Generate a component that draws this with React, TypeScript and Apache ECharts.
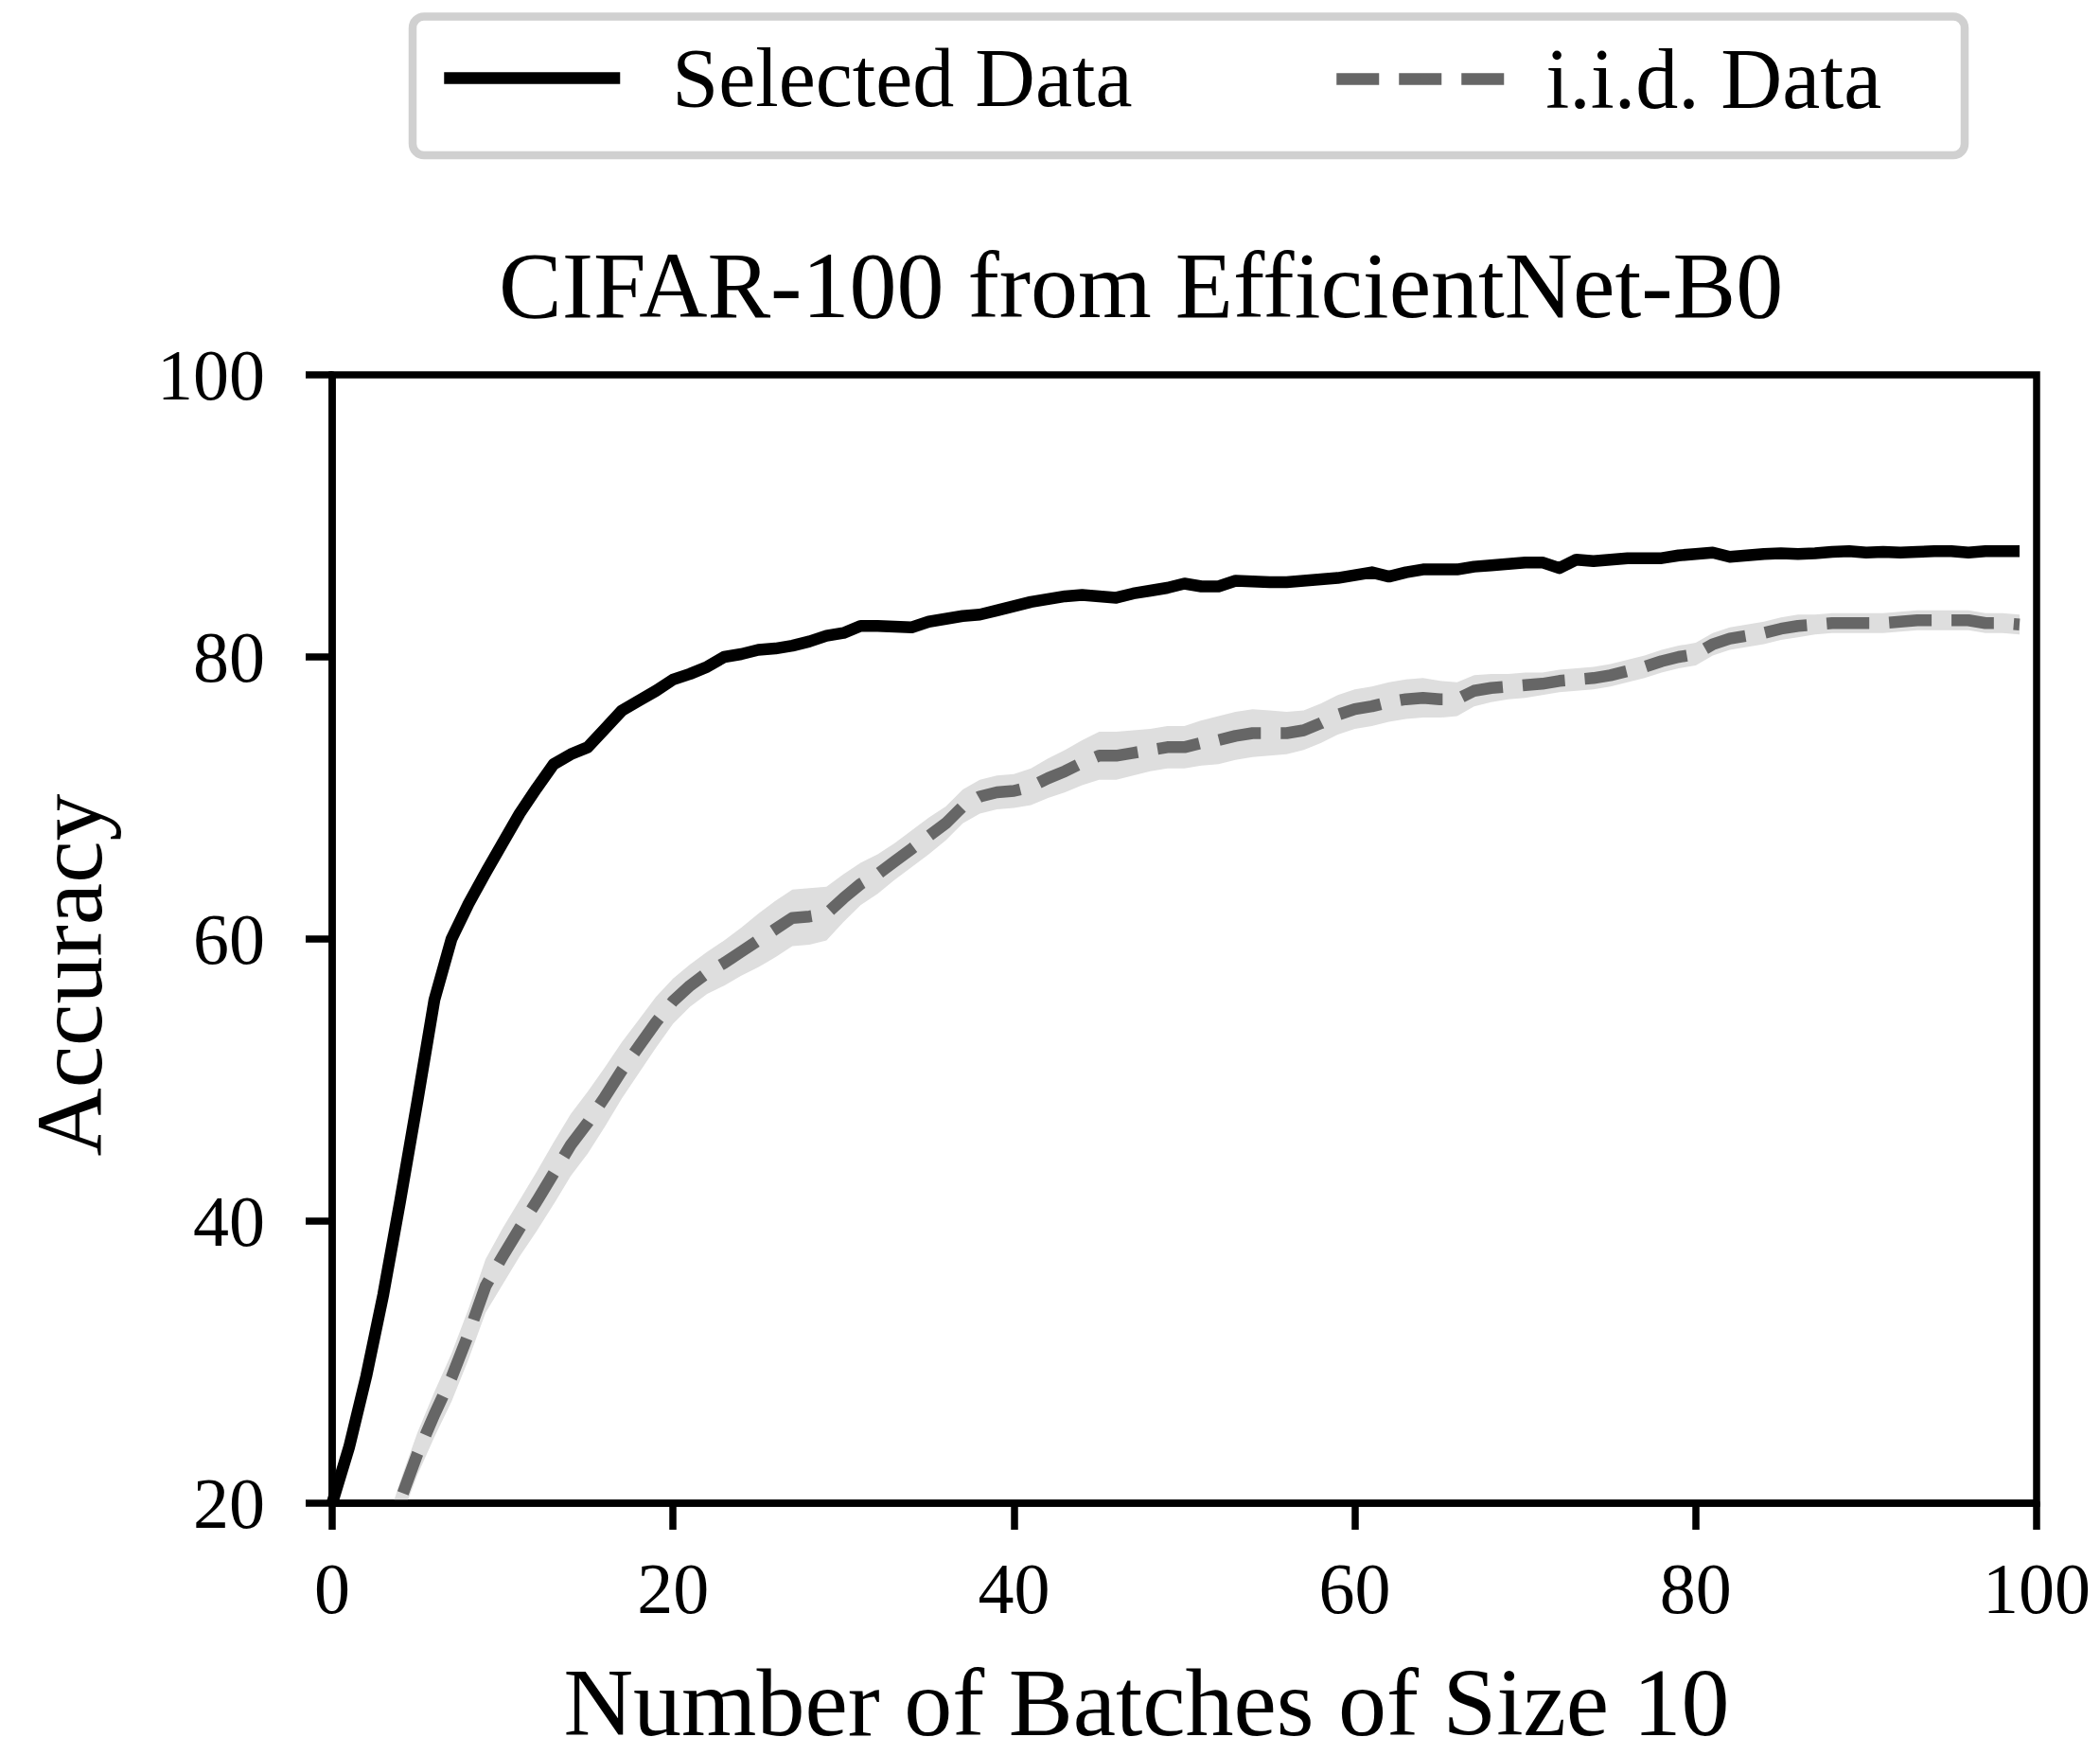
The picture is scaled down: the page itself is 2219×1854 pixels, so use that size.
import React, { useEffect, useRef } from "react";
import * as echarts from "echarts";

const FONT = "Liberation Serif";

const chartTitle = "CIFAR-100 from EfficientNet-B0";
const xAxisName = "Number of Batches of Size 10";
const yAxisName = "Accuracy";
const xTicks = [0, 20, 40, 60, 80, 100];
const yTicks = [20, 40, 60, 80, 100];

// batch index 0..99
const batches = Array.from({ length: 100 }, (_, i) => i);

const selectedData = [
  20.0, 24.0, 29.0, 34.8, 41.5, 48.5, 55.7, 60.0, 62.5, 64.7,
  66.8, 68.9, 70.7, 72.4, 73.1, 73.6, 74.9, 76.2, 76.9, 77.6,
  78.4, 78.8, 79.3, 80.0, 80.2, 80.5, 80.6, 80.8, 81.1, 81.5,
  81.7, 82.2, 82.2, 82.15, 82.1, 82.5, 82.7, 82.9, 83.0, 83.3,
  83.6, 83.9, 84.1, 84.3, 84.4, 84.3, 84.2, 84.5, 84.7, 84.9,
  85.2, 85.0, 85.0, 85.4, 85.35, 85.3, 85.3, 85.4, 85.5, 85.6,
  85.8, 86.0, 85.7, 86.0, 86.2, 86.2, 86.2, 86.4, 86.5, 86.6,
  86.7, 86.7, 86.3, 86.9, 86.8, 86.9, 87.0, 87.0, 87.0, 87.2,
  87.3, 87.4, 87.1, 87.2, 87.3, 87.35, 87.3, 87.35, 87.45, 87.5,
  87.4, 87.45, 87.4, 87.45, 87.5, 87.5, 87.4, 87.5, 87.5, 87.5,
];

const selectedSpread = [
  0.2, 0.2, 0.2, 0.2, 0.2, 0.2, 0.2, 0.2, 0.2, 0.2,
  0.4, 0.4, 0.4, 0.4, 0.4, 0.4, 0.4, 0.4, 0.4, 0.4,
  0.4, 0.3, 0.3, 0.3, 0.3, 0.3, 0.3, 0.3, 0.3, 0.3,
  0.3, 0.3, 0.3, 0.3, 0.3, 0.3, 0.3, 0.3, 0.3, 0.3,
  0.3, 0.2, 0.2, 0.2, 0.2, 0.2, 0.2, 0.2, 0.2, 0.2,
  0.2, 0.2, 0.2, 0.2, 0.2, 0.2, 0.2, 0.2, 0.2, 0.2,
  0.2, 0.2, 0.2, 0.2, 0.2, 0.2, 0.2, 0.2, 0.2, 0.2,
  0.2, 0.2, 0.2, 0.2, 0.2, 0.2, 0.2, 0.2, 0.2, 0.2,
  0.2, 0.2, 0.2, 0.2, 0.2, 0.2, 0.2, 0.2, 0.2, 0.2,
  0.2, 0.2, 0.2, 0.2, 0.2, 0.2, 0.2, 0.2, 0.2, 0.2,
];

// i.i.d. data; first three batches are below the visible range
const iidData = [
  null, null, null, 16.5, 20.2, 23.5, 26.3, 28.9, 32.0, 35.4,
  37.5, 39.5, 41.4, 43.4, 45.4, 47.0, 48.8, 50.7, 52.4, 54.1,
  55.6, 56.7, 57.6, 58.3, 59.1, 59.9, 60.7, 61.5, 61.6, 61.8,
  62.9, 63.9, 64.6, 65.5, 66.4, 67.3, 68.2, 69.4, 70.1, 70.4,
  70.5, 70.8, 71.4, 71.9, 72.5, 73.0, 73.0, 73.2, 73.4, 73.6,
  73.6, 73.9, 74.1, 74.4, 74.6, 74.6, 74.6, 74.8, 75.3, 75.9,
  76.3, 76.5, 76.8, 77.0, 77.1, 77.0, 77.0, 77.6, 77.8, 77.9,
  78.0, 78.1, 78.3, 78.4, 78.5, 78.7, 79.0, 79.3, 79.7, 80.0,
  80.2, 80.9, 81.3, 81.5, 81.7, 82.0, 82.2, 82.3, 82.4, 82.4,
  82.4, 82.4, 82.5, 82.6, 82.6, 82.6, 82.6, 82.4, 82.4, 82.3,
];

const iidSpread = [
  null, null, null, 1.3, 1.4, 1.5, 1.6, 1.7, 1.8, 1.9,
  2.0, 2.0, 2.1, 2.2, 2.2, 2.2, 2.1, 2.0, 1.9, 1.8,
  1.6, 1.5, 1.5, 1.6, 1.7, 1.9, 2.0, 2.0, 2.0, 1.9,
  1.7, 1.5, 1.4, 1.3, 1.3, 1.3, 1.2, 1.2, 1.2, 1.2,
  1.2, 1.3, 1.4, 1.5, 1.6, 1.7, 1.7, 1.6, 1.5, 1.5,
  1.5, 1.6, 1.7, 1.7, 1.7, 1.6, 1.5, 1.4, 1.4, 1.4,
  1.4, 1.4, 1.4, 1.4, 1.4, 1.3, 1.2, 1.1, 1.0, 0.9,
  0.9, 0.8, 0.8, 0.8, 0.8, 0.8, 0.8, 0.8, 0.8, 0.8,
  0.8, 0.8, 0.8, 0.8, 0.8, 0.8, 0.8, 0.7, 0.7, 0.7,
  0.7, 0.7, 0.7, 0.7, 0.7, 0.7, 0.7, 0.7, 0.7, 0.7,
];

const legendNames = ["Selected Data", "i.i.d. Data"];

function pairs(vals: (number | null)[]) {
  return batches.map((x, i) => [x, vals[i]]);
}

function bandSeries(name: string, vals: (number | null)[], spread: (number | null)[], color: string) {
  return {
    type: "custom",
    name,
    silent: true,
    clip: true,
    z: 1,
    data: [[50, 50]],
    renderItem: (_params: any, api: any) => {
      const upper: number[][] = [];
      const lower: number[][] = [];
      batches.forEach((x, i) => {
        const v = vals[i];
        const s = spread[i];
        if (v == null || s == null) return;
        upper.push(api.coord([x, v + s]));
        lower.push(api.coord([x, v - s]));
      });
      return {
        type: "polygon",
        shape: { points: upper.concat(lower.reverse()) },
        style: { fill: color, stroke: "none" },
      };
    },
  };
}

export default function App() {
  const ref = useRef<HTMLDivElement>(null);
  useEffect(() => {
    if (!ref.current) return;
    const chart = echarts.init(ref.current, undefined, { renderer: "svg" });
    const option: any = {
      animation: false,
      backgroundColor: "#ffffff",
      textStyle: { fontFamily: FONT },
      title: {
        text: chartTitle,
        left: 522,
        top: 246,
        textStyle: { fontSize: 100, fontWeight: "normal", color: "#000", fontFamily: FONT },
      },
      graphic: [
        {
          type: "rect",
          z: 0,
          shape: { x: 436, y: 17.5, width: 1640, height: 146.5, r: 12 },
          style: { fill: "#ffffff", stroke: "#d0d0d0", lineWidth: 8.5 },
        },
      ],
      legend: [
        {
          data: [legendNames[0]],
          left: 463,
          top: 38.5,
          padding: 0,
          itemWidth: 186,
          itemHeight: 13,
          selectedMode: false,
          z: 10,
          lineStyle: { width: 12.5 },
          textStyle: { fontSize: 88, lineHeight: 88, color: "#000", fontFamily: FONT, padding: [0, 0, 0, 50] },
        },
        {
          data: [legendNames[1]],
          left: 1406,
          top: 38.5,
          padding: 0,
          itemWidth: 186,
          itemHeight: 13,
          selectedMode: false,
          z: 10,
          lineStyle: { width: 12.5 },
          textStyle: { fontSize: 90, lineHeight: 88, color: "#000", fontFamily: FONT, padding: [0, 0, 0, 30] },
        },
      ],
      grid: {
        left: 351,
        right: 67,
        top: 396,
        bottom: 258,
        show: true,
        borderColor: "#000",
        borderWidth: 7.5,
        backgroundColor: "transparent",
        z: 5,
      },
      xAxis: {
        type: "value",
        min: xTicks[0],
        max: xTicks[xTicks.length - 1],
        interval: 20,
        name: xAxisName,
        nameLocation: "middle",
        nameGap: 159,
        nameTextStyle: { fontSize: 102, color: "#000", fontFamily: FONT, padding: [0, 80, 0, 0] },
        axisLine: { show: true, lineStyle: { color: "#000", width: 7.5 } },
        axisTick: { show: true, inside: false, length: 28, lineStyle: { color: "#000", width: 7.5 } },
        axisLabel: { fontSize: 76, color: "#000", fontFamily: FONT, margin: 52 },
        splitLine: { show: false },
      },
      yAxis: {
        type: "value",
        min: yTicks[0],
        max: yTicks[yTicks.length - 1],
        interval: 20,
        name: yAxisName,
        nameLocation: "middle",
        nameGap: 228,
        nameTextStyle: { fontSize: 100, color: "#000", fontFamily: FONT, padding: [0, 76, 0, 0] },
        axisLine: { show: true, lineStyle: { color: "#000", width: 7.5 } },
        axisTick: { show: true, inside: false, length: 28, lineStyle: { color: "#000", width: 7.5 } },
        axisLabel: { fontSize: 76, color: "#000", fontFamily: FONT, margin: 71 },
        splitLine: { show: false },
      },
      series: [
        bandSeries("iid-band", iidData, iidSpread, "#dedede"),
        bandSeries("sel-band", selectedData, selectedSpread, "#d2d2d2"),
        {
          name: legendNames[1],
          type: "line",
          symbol: "none",
          data: pairs(iidData),
          z: 3,
          lineStyle: { color: "#666666", width: 12.5, type: [45, 21], cap: "butt", join: "round" },
          itemStyle: { color: "#666666" },
        },
        {
          name: legendNames[0],
          type: "line",
          symbol: "none",
          data: pairs(selectedData),
          z: 4,
          lineStyle: { color: "#000000", width: 12.5, cap: "butt", join: "round" },
          itemStyle: { color: "#000000" },
        },
      ],
    };
    chart.setOption(option);
    return () => chart.dispose();
  }, []);
  return (
    <div
      ref={ref}
      style={{ position: "absolute", left: 0, top: 0, width: 2219, height: 1854, background: "#fff" }}
    />
  );
}
